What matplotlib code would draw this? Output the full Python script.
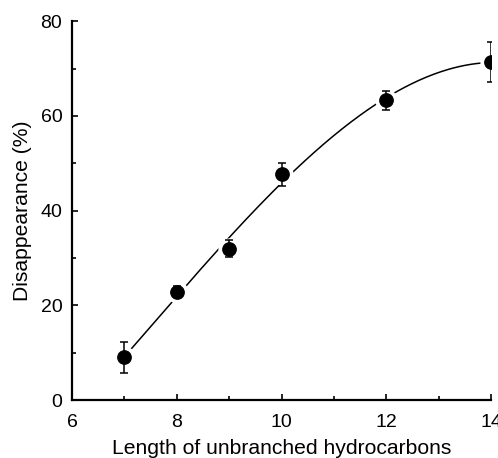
import numpy as np
import matplotlib
matplotlib.use('Agg')
import matplotlib.pyplot as plt
from matplotlib.ticker import MultipleLocator

plt.rcParams['font.family'] = ['Liberation Sans', 'DejaVu Sans']

# chain length vs. disappearance (%)
length = [7, 8, 9, 10, 12, 14]
disappearance = [9.0, 22.9, 32.0, 47.7, 63.3, 71.4]
error = [3.2, 1.1, 1.7, 2.4, 2.0, 4.2]

fig = plt.figure(figsize=(4.98, 4.58), dpi=100)
ax = fig.add_axes([0.1446, 0.1266, 0.8414, 0.8270])

# smooth trend curve fitted through the means
coef = np.polyfit(length, disappearance, 3)
xs = np.linspace(min(length), max(length), 200)
ax.plot(xs, np.polyval(coef, xs), color='black', lw=1.1, zorder=1)

# white halo so the curve stops short of each point
ax.plot(length, disappearance, 'o', ms=15, color='white', mec='white', zorder=2)
ax.errorbar(length, disappearance, yerr=error, fmt='none', ecolor='black',
            elinewidth=1.1, capsize=3, capthick=1.1, zorder=3)
ax.plot(length, disappearance, 'o', ms=9.6, color='black', zorder=4)

ax.set_xlim(6, 14)
ax.set_ylim(0, 80)
ax.xaxis.set_major_locator(MultipleLocator(2))
ax.xaxis.set_minor_locator(MultipleLocator(1))
ax.yaxis.set_major_locator(MultipleLocator(20))
ax.yaxis.set_minor_locator(MultipleLocator(10))

for side in ['top', 'right']:
    ax.spines[side].set_visible(False)
for side in ['left', 'bottom']:
    ax.spines[side].set_linewidth(1.6)

ax.tick_params(which='major', direction='in', length=4, width=1.2, labelsize=14)
ax.tick_params(axis='x', which='major', pad=10)
ax.tick_params(axis='y', which='major', pad=7)
ax.tick_params(which='minor', direction='in', length=3, width=1.2)

ax.set_xlabel('Length of unbranched hydrocarbons', fontsize=15.2, labelpad=6)
ax.set_ylabel('Disappearance (%)', fontsize=15.2, labelpad=6)

fig.savefig('out.png', dpi=100)
